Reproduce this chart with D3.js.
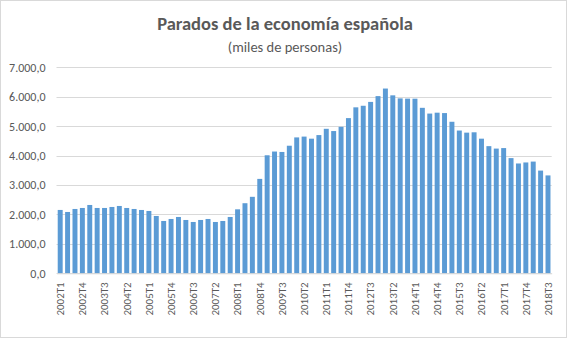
<!DOCTYPE html>
<html><head><meta charset="utf-8">
<script src="https://cdn.jsdelivr.net/npm/d3@7"></script>
<style>body{margin:0;background:#fff}svg{display:block}</style>
</head><body>
<script>
const years = d3.range(2002, 2019);
const categories = [];
years.forEach(y => { for (let q = 1; q <= 4; q++) { if (y === 2018 && q > 3) break; categories.push(y + "T" + q); } });
const values = [2152.8,2084,2186,2220,2322,2220,2220,2254,2288,2220,2186,2152,2118,1948,1778,1846,1914,1812,1744,1812,
1846,1744,1778,1914,2174.2,2381.5,2598.8,3207.9,4010.7,4137.5,4123.3,4335.0,4617.7,4645.5,4574.7,4696.6,4910.2,4833.7,4978.3,5273.6,
5639.5,5693.1,5824.2,6021.0,6278.2,6047.3,5943.4,5935.6,5933.3,5622.9,5427.7,5457.7,5444.6,5149.0,4850.8,4779.5,4791.4,4574.7,4320.8,4237.8,
4255.0,3914.3,3731.7,3766.7,3796.1,3490.1,3326.0];
const yTicks = [0,1000,2000,3000,4000,5000,6000,7000];
const title = "Parados de la economía española";
const subtitle = "(miles de personas)";

const W = 571, H = 343;
const svg = d3.select("body").append("svg").attr("width", W).attr("height", H);
svg.append("rect").attr("x",0.5).attr("y",0.5).attr("width",W-5).attr("height",H-6)
  .attr("fill","#fff").attr("stroke","#d9d9d9");

const x = d3.scaleBand().domain(categories).range([56.5, 551.7]).paddingInner(0.33).paddingOuter(0.165);
const y = d3.scaleLinear().domain([0,7000]).range([273.3, 67.3]);
const fmt = v => d3.format(",.1f")(v).replace(/,/g,"#").replace(".",",").replace(/#/g,".");

svg.append("g").selectAll("line").data(yTicks).join("line")
  .attr("x1",56.5).attr("x2",551.7).attr("y1",d=>Math.round(y(d))+0.5).attr("y2",d=>Math.round(y(d))+0.5)
  .attr("stroke","#d9d9d9").attr("stroke-width",1);

const yAxis = svg.append("g").attr("transform","translate(56.5,0)")
  .call(d3.axisLeft(y).tickValues(yTicks).tickFormat(fmt).tickSize(0).tickPadding(11));
yAxis.select(".domain").remove();
yAxis.selectAll("text").attr("font-family","Calibri, Carlito, 'Open Sans', sans-serif").attr("font-size",12).attr("fill","#595959");

svg.append("g").selectAll("rect").data(values).join("rect")
  .attr("x",(d,i)=>x(categories[i])).attr("width",x.bandwidth())
  .attr("y",d=>y(d)).attr("height",d=>y(0)-y(d)).attr("fill","#5b9bd5");

const xAxis = svg.append("g").attr("transform","translate(0,273.3)")
  .call(d3.axisBottom(x).tickValues(categories.filter((c,i)=>i%3===0)).tickSize(0).tickPadding(0));
xAxis.select(".domain").attr("stroke","#d9d9d9");
xAxis.selectAll("text").attr("font-family","Calibri, Carlito, 'Open Sans', sans-serif").attr("font-size",11).attr("fill","#595959")
  .attr("transform","rotate(-90)").attr("text-anchor","end").attr("dy","0.35em").attr("x",-9).attr("y",0);

svg.append("text").attr("x",285).attr("y",30).attr("text-anchor","middle")
  .attr("font-family","Calibri, Carlito, Lato, sans-serif").attr("font-weight","bold").attr("font-size",18.5).attr("fill","#595959").text(title);
svg.append("text").attr("x",285).attr("y",52).attr("text-anchor","middle")
  .attr("font-family","Calibri, Carlito, Lato, sans-serif").attr("font-size",14.5).attr("fill","#595959").text(subtitle);
</script>
</body></html>
